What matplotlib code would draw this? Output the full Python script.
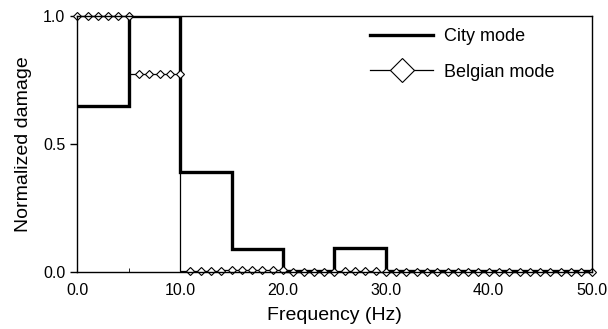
import numpy as np
import matplotlib
matplotlib.use('Agg')
import matplotlib.pyplot as plt

plt.rcParams['font.family'] = ['Liberation Sans', 'DejaVu Sans']

# City mode: 5 Hz bands, value holds over each band
city_edges = [0, 5, 10, 15, 20, 25, 30, 35, 40, 45, 50]
city_vals = [0.65, 1.0, 0.39, 0.09, 0.004, 0.095, 0.004, 0.004, 0.004, 0.004]

# Belgian mode: one value per Hz (0..50)
belg_freq = np.arange(0, 51)
belg_vals = ([1.0] * 6 + [0.775] * 5 +
             [0.006, 0.006, 0.006, 0.006, 0.007, 0.009, 0.010, 0.010, 0.010, 0.009] +
             [0.0] * 5 +
             [0.004, 0.004, 0.004, 0.004, 0.002] +
             [0.001] * 20)

fig = plt.figure(figsize=(6.08, 3.29), dpi=100)
ax = fig.add_axes([0.127, 0.173, 0.846, 0.778])

ax.stairs(city_vals, city_edges, color='black', linewidth=2.4, label='City mode',
          baseline=None)
ax.step(belg_freq, belg_vals, where='pre', color='black', linewidth=0.9,
        marker='D', markersize=4, markerfacecolor='white', markeredgewidth=0.8,
        label='Belgian mode', clip_on=False)

ax.set_xlim(0, 50)
ax.set_ylim(0, 1.0)
ax.set_xticks([0, 10, 20, 30, 40, 50])
ax.set_xticklabels(['0.0', '10.0', '20.0', '30.0', '40.0', '50.0'])
ax.set_yticks([0, 0.5, 1.0])
ax.set_yticklabels(['0.0', '0.5', '1.0'])
ax.set_xticks(np.arange(0, 51, 5), minor=True)
ax.tick_params(axis='x', which='major', length=0, labelsize=11.5, pad=8)
ax.tick_params(axis='x', which='minor', length=3, direction='in', width=0.6)
ax.tick_params(axis='y', which='major', length=5, direction='out', labelsize=11.5, width=1)
for s in ax.spines.values():
    s.set_linewidth(1.0)

ax.set_xlabel('Frequency (Hz)', fontsize=14, labelpad=6)
ax.set_ylabel('Normalized damage', fontsize=14, labelpad=8)

leg = ax.legend(loc='upper left', frameon=False, fontsize=13, handlelength=3.5,
                handletextpad=0.6, borderaxespad=0.0, labelspacing=1.0,
                bbox_to_anchor=(0.555, 0.98))
leg.get_lines()[1].set_markersize(12)

fig.savefig('out.png', dpi=100)
